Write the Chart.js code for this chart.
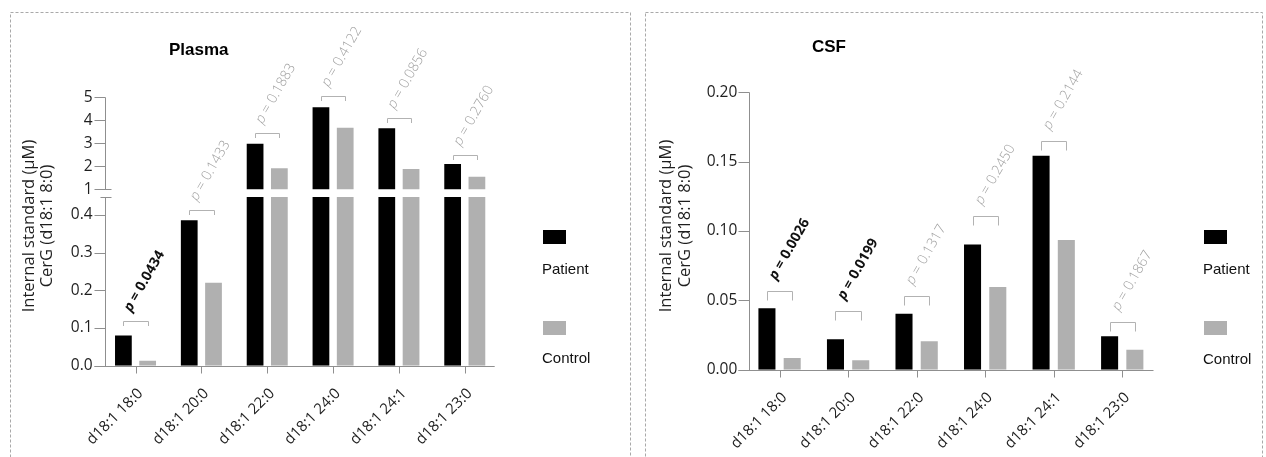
<!DOCTYPE html>
<html>
<head>
<meta charset="utf-8">
<script src="https://cdn.jsdelivr.net/npm/chart.js@4"></script>
<style>
  html, body { margin: 0; padding: 0; background: #fff; }
  #wrap { position: relative; width: 1266px; height: 457px; overflow: hidden; }
  canvas { position: absolute; top: 0; }
  #plasma { left: 0; }
  #csf { left: 640px; }
</style>
</head>
<body>
<div id="wrap">
  <canvas id="plasma" width="640" height="457"></canvas>
  <canvas id="csf" width="626" height="457"></canvas>
</div>
<script>
// ---- data -------------------------------------------------------------
const CATEGORIES = ['d18:1 18:0', 'd18:1 20:0', 'd18:1 22:0', 'd18:1 24:0', 'd18:1 24:1', 'd18:1 23:0'];
const SERIES = ['Patient', 'Control'];

// Plasma, internal standard CerG (µM)
const PLASMA_PATIENT = [0.080, 0.386, 2.98, 4.57, 3.65, 2.10];
const PLASMA_CONTROL = [0.013, 0.220, 1.91, 3.68, 1.88, 1.55];
const PLASMA_P = ['0.0434', '0.1433', '0.1883', '0.4122', '0.0856', '0.2760'];
const PLASMA_BRACKET = [0.118, 0.413, 3.43, 5.07, 4.09, 2.50];
const PLASMA_TICKS_LOW = [0, 0.1, 0.2, 0.3, 0.4];
const PLASMA_TICKS_HIGH = [1, 2, 3, 4, 5];

// CSF, internal standard CerG (µM)
const CSF_PATIENT = [0.0443, 0.0219, 0.0403, 0.0902, 0.1543, 0.0241];
const CSF_CONTROL = [0.0085, 0.0068, 0.0206, 0.0597, 0.0936, 0.0144];
const CSF_P = ['0.0026', '0.0199', '0.1317', '0.2450', '0.2144', '0.1867'];
const CSF_BRACKET = [0.0568, 0.0424, 0.0534, 0.111, 0.1646, 0.0344];
const CSF_TICKS = [0, 0.05, 0.10, 0.15, 0.20];

const Y_TITLE = ['Internal standard (µM)', 'CerG (d18:1 8:0)'];
const ALPHA = 0.05;

// ---- styling ----------------------------------------------------------
const BLACK = '#000000';
const GRAY = '#b0b0b0';
const AXIS = '#8f8f8f';
const BRACKET = '#b2b2b2';
const P_GRAY = '#a0a0a0';
const TEXT = '#1e1e1e';
const FRAME = '#a9a9a9';
const UI_FONT = '"Open Sans", "Noto Sans", sans-serif';
const SANS = '"Liberation Sans", Arial, sans-serif';

// broken y axis of the plasma panel
const LOW_TOP = 0.448;    // upper end of the lower segment
const HIGH_BASE = 1;      // lower end of the upper segment

function line(ctx, x1, y1, x2, y2) {
  ctx.beginPath();
  ctx.moveTo(x1, y1);
  ctx.lineTo(x2, y2);
  ctx.stroke();
}

// Frame, titles, hand-drawn axes, significance brackets and legend
const panelDecor = {
  id: 'panelDecor',
  beforeDraw(chart, args, o) {
    const ctx = chart.ctx;
    ctx.save();
    ctx.strokeStyle = FRAME;
    ctx.lineWidth = 1;
    ctx.setLineDash([3, 2]);
    const [fx, fy, fw, fh] = o.frame;
    ctx.strokeRect(fx + 0.5, fy + 0.5, fw, fh);
    ctx.restore();
  },
  afterDraw(chart, args, o) {
    const ctx = chart.ctx;
    const area = chart.chartArea;
    const ax = Math.round(area.left + o.axisInset) + 0.5;
    ctx.save();

    // panel title
    ctx.fillStyle = '#000';
    ctx.font = 'bold 17px ' + SANS;
    ctx.textAlign = 'left';
    ctx.textBaseline = 'alphabetic';
    ctx.fillText(o.title, o.titlePos[0], o.titlePos[1]);

    // y axis title (two lines)
    ctx.fillStyle = TEXT;
    ctx.font = '16.5px ' + UI_FONT;
    ctx.textAlign = 'center';
    ctx.textBaseline = 'middle';
    Y_TITLE.forEach((txt, k) => {
      ctx.save();
      ctx.translate(o.yTitleX[k], o.yTitleY);
      ctx.rotate(-Math.PI / 2);
      ctx.fillText(txt, 0, 0);
      ctx.restore();
    });

    // axes
    ctx.strokeStyle = AXIS;
    ctx.lineWidth = 1;
    const xs = chart.scales.x;
    const baseY = Math.round(chart.scales[o.baseScale].getPixelForValue(0)) + 0.5;
    line(ctx, ax - 11, baseY, area.right - 3, baseY);
    xs.ticks.forEach((t, i) => {
      const px = Math.round(xs.getPixelForTick(i)) + 0.5;
      line(ctx, px, baseY, px, baseY + 7);
    });
    o.segments.forEach(seg => {
      const s = chart.scales[seg.scale];
      const y0 = Math.round(s.getPixelForValue(seg.from)) + 0.5;
      const y1 = Math.round(s.getPixelForValue(seg.to)) + 0.5;
      line(ctx, ax, y0, ax, y1);
      if (seg.capAt !== undefined) {
        const yc = Math.round(s.getPixelForValue(seg.capAt)) + 0.5;
        line(ctx, ax - 5, yc, ax + 6, yc);
      }
      s.ticks.forEach(t => {
        const py = Math.round(s.getPixelForValue(t.value)) + 0.5;
        line(ctx, ax - 11, py, ax, py);
      });
    });

    // significance brackets and p values
    const mP = chart.getDatasetMeta(0).data;
    const mC = chart.getDatasetMeta(1).data;
    o.pValues.forEach((p, i) => {
      const x1 = Math.round(mP[i].x) + 0.5;
      const x2 = Math.round(mC[i].x) + 0.5;
      const lvl = o.brackets[i];
      const by = Math.round(chart.scales[o.levelScale(lvl)].getPixelForValue(lvl)) + 0.5;
      ctx.strokeStyle = BRACKET;
      ctx.beginPath();
      ctx.moveTo(x1, by + o.leg);
      ctx.lineTo(x1, by);
      ctx.lineTo(x2, by);
      ctx.lineTo(x2, by + o.leg);
      ctx.stroke();

      const sig = parseFloat(p) < ALPHA;
      const weight = sig ? 'bold ' : '300 ';
      ctx.save();
      ctx.translate((x1 + x2) / 2 + o.pOffset[0], by + o.pOffset[1]);
      ctx.rotate(-Math.PI / 3);
      ctx.fillStyle = sig ? '#111' : P_GRAY;
      ctx.textAlign = 'left';
      ctx.textBaseline = 'alphabetic';
      ctx.font = 'italic ' + weight + '14px ' + UI_FONT;
      ctx.fillText('p', 0, 0);
      const pw = ctx.measureText('p').width;
      ctx.font = weight + '14px ' + UI_FONT;
      ctx.fillText(' = ' + p, pw, 0);
      ctx.restore();
    });

    // legend
    ctx.font = '15px ' + SANS;
    ctx.textAlign = 'left';
    ctx.textBaseline = 'alphabetic';
    SERIES.forEach((name, k) => {
      const ds = chart.data.datasets[k];
      ctx.fillStyle = ds.backgroundColor;
      ctx.fillRect(o.legendX, o.legendBoxY[k], 23, 14);
      ctx.fillStyle = '#111';
      ctx.fillText(name, o.legendX - 1, o.legendTextY[k]);
    });
    ctx.restore();
  }
};

function xScale(height) {
  return {
    type: 'category',
    grid: { display: false, drawTicks: true, tickLength: 7 },
    border: { display: false },
    ticks: {
      autoSkip: false, maxRotation: 45, minRotation: 45,
      padding: 12, labelOffset: 5,
      color: TEXT, font: { family: UI_FONT, size: 15 }
    },
    afterFit: s => { s.height = height; }
  };
}

function yScale(opts) {
  return Object.assign({
    type: 'linear',
    position: 'left',
    stacked: false,
    grid: { display: false, drawTicks: true, tickLength: 8 },
    border: { display: false },
  }, opts);
}

const Y_TICK_FONT = { family: UI_FONT, size: 15.5 };

// ---- plasma (broken axis) ---------------------------------------------
const clampLow = v => Math.min(v, LOW_TOP);
const upperPart = v => (v > LOW_TOP ? [HIGH_BASE, v] : null);
const PLASMA_AXIS_W = 102.6;

new Chart(document.getElementById('plasma'), {
  type: 'bar',
  data: {
    labels: CATEGORIES,
    datasets: [
      { label: SERIES[0], data: PLASMA_PATIENT.map(clampLow), yAxisID: 'yLow', stack: 'patient', backgroundColor: BLACK },
      { label: SERIES[1], data: PLASMA_CONTROL.map(clampLow), yAxisID: 'yLow', stack: 'control', backgroundColor: GRAY },
      { label: SERIES[0], data: PLASMA_PATIENT.map(upperPart), yAxisID: 'yHigh', stack: 'patient', backgroundColor: BLACK },
      { label: SERIES[1], data: PLASMA_CONTROL.map(upperPart), yAxisID: 'yHigh', stack: 'control', backgroundColor: GRAY }
    ]
  },
  options: {
    responsive: false,
    animation: false,
    devicePixelRatio: 1,
    categoryPercentage: 0.737,
    barPercentage: 0.69,
    layout: { padding: { left: 0, right: 142.3, top: 97.3, bottom: 0 } },
    scales: {
      x: xScale(91.3),
      yLow: yScale({
        stack: 'plasma', stackWeight: 173.0, weight: 0,
        min: 0, max: 0.459,
        ticks: { autoSkip: false, padding: 2, color: TEXT, font: Y_TICK_FONT, callback: v => Number(v).toFixed(1) },
        afterBuildTicks: s => { s.ticks = PLASMA_TICKS_LOW.map(v => ({ value: v })); },
        afterFit: s => { s.width = PLASMA_AXIS_W; }
      }),
      yHigh: yScale({
        stack: 'plasma', stackWeight: 95.45, weight: 1,
        min: 0.85, max: 5,
        ticks: { autoSkip: false, padding: 2, color: TEXT, font: Y_TICK_FONT, callback: v => String(v) },
        afterBuildTicks: s => { s.ticks = PLASMA_TICKS_HIGH.map(v => ({ value: v })); },
        afterFit: s => { s.width = PLASMA_AXIS_W; }
      })
    },
    plugins: {
      legend: { display: false },
      tooltip: { enabled: false },
      panelDecor: {
        frame: [10, 12, 620, 480],
        title: 'Plasma', titlePos: [169, 55],
        yTitleX: [29, 47.5], yTitleY: 226,
        axisInset: 2.4,
        baseScale: 'yLow',
        segments: [
          { scale: 'yHigh', from: 5, to: HIGH_BASE, capAt: HIGH_BASE },
          { scale: 'yLow', from: LOW_TOP, to: 0, capAt: LOW_TOP }
        ],
        pValues: PLASMA_P,
        brackets: PLASMA_BRACKET,
        levelScale: v => (v > LOW_TOP ? 'yHigh' : 'yLow'),
        leg: 4.5,
        pOffset: [-5, -9],
        legendX: 543, legendBoxY: [230, 321], legendTextY: [273.5, 363]
      }
    }
  },
  plugins: [panelDecor]
});

// ---- CSF ----------------------------------------------------------------
new Chart(document.getElementById('csf'), {
  type: 'bar',
  data: {
    labels: CATEGORIES,
    datasets: [
      { label: SERIES[0], data: CSF_PATIENT, backgroundColor: BLACK },
      { label: SERIES[1], data: CSF_CONTROL, backgroundColor: GRAY }
    ]
  },
  options: {
    responsive: false,
    animation: false,
    devicePixelRatio: 1,
    categoryPercentage: 0.737,
    barPercentage: 0.675,
    layout: { padding: { left: 0, right: 109.5, top: 92.3, bottom: 0 } },
    scales: {
      x: xScale(87.3),
      y: yScale({
        min: 0, max: 0.2,
        ticks: { autoSkip: false, padding: 0, color: TEXT, font: Y_TICK_FONT, callback: v => Number(v).toFixed(2) },
        afterBuildTicks: s => { s.ticks = CSF_TICKS.map(v => ({ value: v })); },
        afterFit: s => { s.width = 105.3; }
      })
    },
    plugins: {
      legend: { display: false },
      tooltip: { enabled: false },
      panelDecor: {
        frame: [5, 12, 617, 480],
        title: 'CSF', titlePos: [172, 52],
        yTitleX: [26, 45], yTitleY: 226,
        axisInset: 3.7,
        baseScale: 'y',
        segments: [{ scale: 'y', from: 0.2, to: 0 }],
        pValues: CSF_P,
        brackets: CSF_BRACKET,
        levelScale: () => 'y',
        leg: 9,
        pOffset: [-4, -11],
        legendX: 564, legendBoxY: [230, 321], legendTextY: [274, 363.5]
      }
    }
  },
  plugins: [panelDecor]
});
</script>
</body>
</html>
